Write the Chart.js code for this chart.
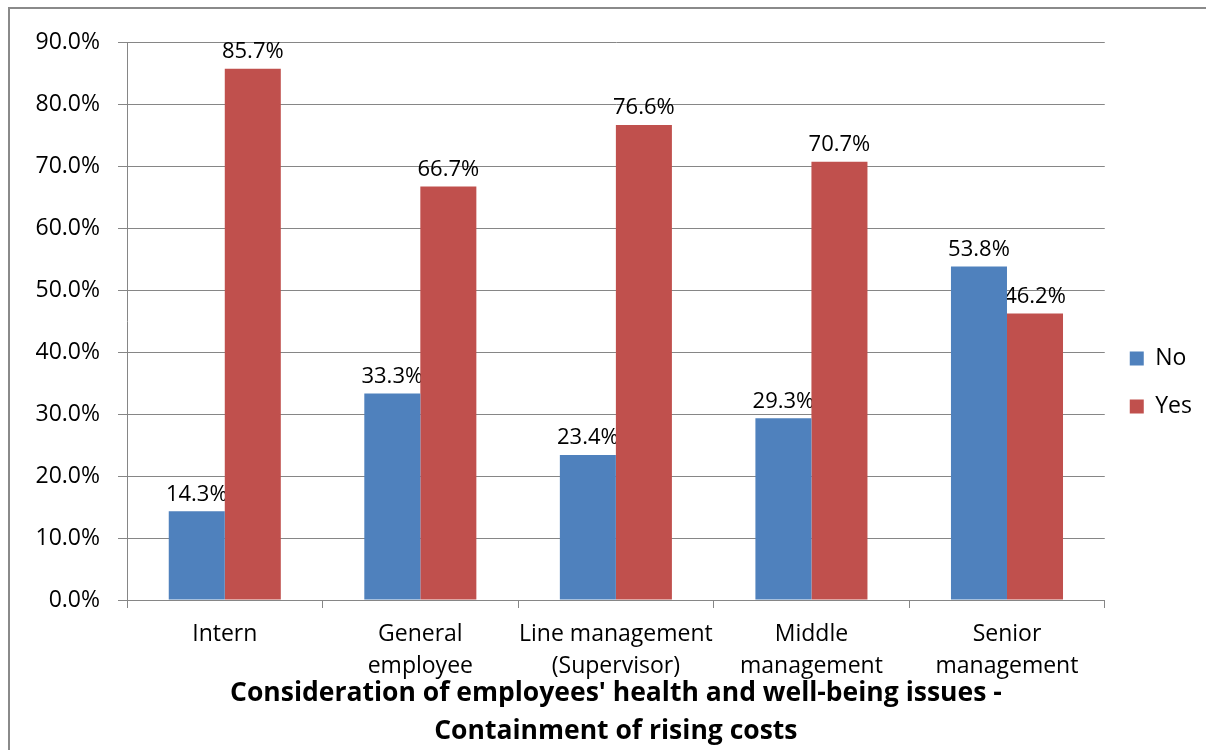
<!DOCTYPE html>
<html>
<head>
<meta charset="utf-8">
<script src="https://cdn.jsdelivr.net/npm/chart.js@4"></script>
<style>
  body { margin: 0; background: #fff; }
  #wrap { position: relative; width: 1206px; height: 750px; }
  #frame { position: absolute; left: 8px; top: 7px; right: 0; bottom: 0; border-left: 2px solid #8a8a8a; border-top: 2px solid #8a8a8a; pointer-events: none; }
</style>
</head>
<body>
<div id="wrap">
  <canvas id="chart" width="1206" height="750"></canvas>
  <div id="frame"></div>
</div>
<script>
(function(){
  "use strict";
  var categories = ['Intern', ['General', 'employee'], ['Line management', '(Supervisor)'], ['Middle', 'management'], ['Senior', 'management']];
  var noValues = [14.3, 33.3, 23.4, 29.3, 53.8];
  var yesValues = [85.7, 66.7, 76.6, 70.7, 46.2];
  var yTicks = [0, 10, 20, 30, 40, 50, 60, 70, 80, 90];
  var titleLines = ["Consideration of employees' health and well-being issues -", 'Containment of rising costs'];

  var gridColor = '#868686';
  var font = 'Open Sans';

  // value labels, drawn before bars so the next bar covers overflow like the original
  var barLabels = {
    id: 'barLabels',
    beforeDatasetsDraw: function(chart){
      var ctx = chart.ctx;
      ctx.save();
      ctx.font = '22px "' + font + '"';
      ctx.fillStyle = '#000';
      ctx.textAlign = 'center';
      ctx.textBaseline = 'bottom';
      chart.data.datasets.forEach(function(ds, i){
        chart.getDatasetMeta(i).data.forEach(function(bar, j){
          ctx.fillText(ds.data[j].toFixed(1) + '%', bar.x, bar.y - 6);
        });
      });
      ctx.restore();
    }
  };

  new Chart(document.getElementById('chart'), {
    type: 'bar',
    data: {
      labels: categories,
      datasets: [{
        label: 'No',
        data: noValues,
        backgroundColor: '#4F81BD'
      }, {
        label: 'Yes',
        data: yesValues,
        backgroundColor: '#C0504D'
      }]
    },
    options: {
      responsive: false,
      animation: false,
      layout: { padding: { left: 30, top: 42, right: 4, bottom: 0 } },
      datasets: { bar: { barPercentage: 1, categoryPercentage: 0.573 } },
      scales: {
        x: {
          grid: { display: true, drawOnChartArea: false, color: gridColor, tickLength: 8, offset: true },
          border: { color: gridColor, width: 1 },
          ticks: { color: '#000', font: { family: font, size: 23, lineHeight: 32 / 23 }, padding: 10, maxRotation: 0, autoSkip: false },
          afterFit: function(s){ s.height = 83; }
        },
        y: {
          min: 0,
          max: 90,
          afterBuildTicks: function(s){ s.ticks = yTicks.map(function(v){ return { value: v }; }); },
          grid: { color: gridColor, tickLength: 9 },
          border: { color: gridColor, width: 1 },
          ticks: {
            color: '#000',
            font: { family: font, size: 23 },
            padding: 18,
            callback: function(v){ return v.toFixed(1) + '%'; }
          },
          afterFit: function(s){ s.width = 97; }
        }
      },
      plugins: {
        legend: {
          position: 'right',
          fullSize: false,
          title: { display: true, text: '', font: { size: 10, lineHeight: 1 }, padding: { top: 113, bottom: 0 } },
          labels: { boxWidth: 14, boxHeight: 14, padding: 25, color: '#000', font: { family: font, size: 23 } }
        },
        title: {
          display: true,
          position: 'bottom',
          fullSize: false,
          text: titleLines,
          color: '#000',
          font: { family: font, size: 26.5, weight: 'bold', lineHeight: 38 / 26.5 },
          padding: { top: -9, bottom: 0 }
        },
        tooltip: { enabled: false }
      }
    },
    plugins: [barLabels]
  });
})();
</script>
</body>
</html>
